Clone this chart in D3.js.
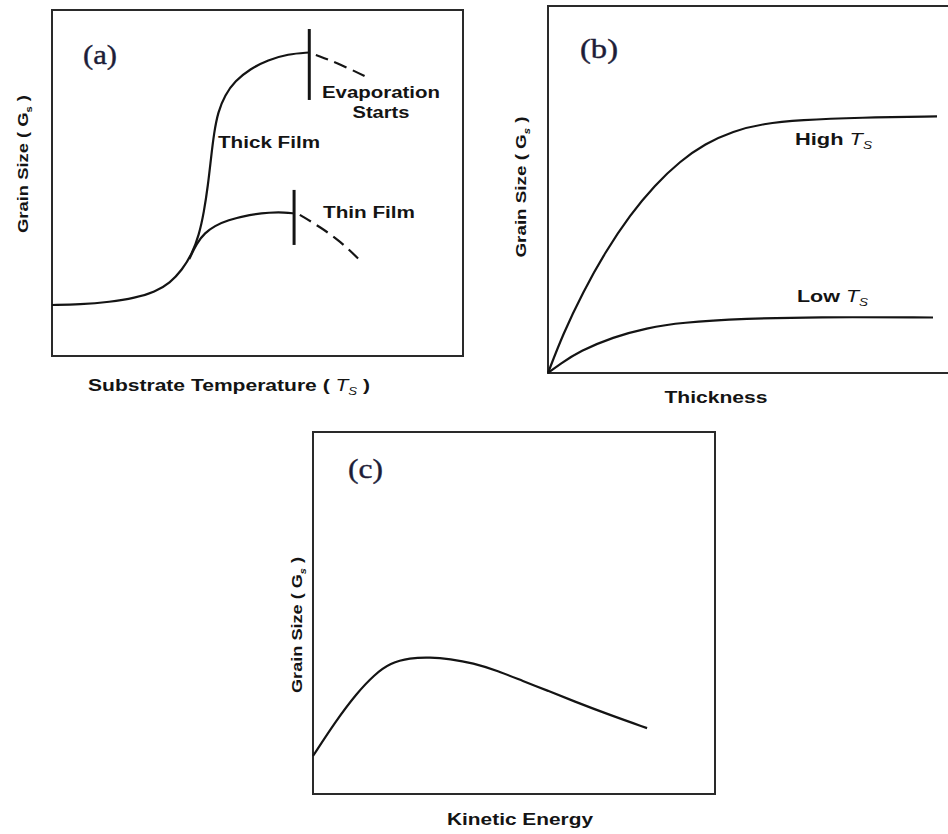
<!DOCTYPE html>
<html><head><meta charset="utf-8">
<script src="https://cdn.jsdelivr.net/npm/d3@7"></script>
<style>body{margin:0;background:#fff;} svg{display:block;}</style>
</head><body><svg id="c" width="948" height="834"></svg>
<script>
// ---------- data (arbitrary units 0-100 on both axes) ----------
// Panel (a): grain size vs substrate temperature
const thickFilm = [[0,14.74],[6.81,14.88],[14.11,15.61],[20.19,16.76],[25.06,18.5],[28.71,21.1],[31.63,24.86],[34.06,29.48],[35.77,34.97],[36.98,41.62],[37.96,49.42],[38.69,57.23],[39.42,64.45],[40.39,70.52],[42.09,75.43],[44.53,79.48],[48.18,82.95],[52.55,85.55],[57.42,87.28],[62.53,87.72]];
const thickFilmEvap = [[64.2,87.0],[70.1,84.4],[77.4,80.1]];
const thinFilm = [[33.4,28.0],[35.2,32.6],[37.2,35.6],[39.6,37.6],[42.6,39.2],[48.2,40.9],[53.0,41.5],[56.7,41.5],[58.9,41.2]];
const thinFilmEvap = [[60.3,40.8],[65.2,37.3],[70.1,33.2],[74.9,27.7]];
const evapMarkers = [{x:62.6, y0:74.0, y1:94.5}, {x:58.9, y0:32.1, y1:48.0}];
// Panel (b): grain size vs thickness
const highTs = [[0,0],[3.75,10.63],[8.75,22.07],[14.25,32.86],[20.5,43.08],[26.75,51.25],[33,57.71],[39.25,62.48],[46.25,65.91],[53.75,67.96],[63,68.96],[78,69.62],[97.25,69.9]];
const lowTs = [[0,0],[3,2.45],[8,5.99],[16.25,9.81],[24.75,12.26],[33,13.76],[49.75,14.85],[66.25,15.26],[96.25,15.12]];
// Panel (c): grain size vs kinetic energy
const kinetic = [[0,10.5],[5.5,19.9],[10.9,27.9],[15.4,33.1],[19.2,36.2],[24.1,37.6],[29.1,37.8],[34.1,37.3],[39.8,36.2],[46.0,34.0],[52.2,31.2],[58.5,28.5],[64.7,25.7],[73.9,21.8],[83.1,18.2]];
// text
const panelTags = ["(a)", "(b)", "(c)"];
const xTitles = ["Substrate Temperature ( ", "Thickness", "Kinetic Energy"];

// ---------- drawing ----------
const svg = d3.select("#c");
const INK = "#141414";
const SANS = "'Liberation Sans', Arial, sans-serif";
const SERIF = "'Liberation Serif', 'Times New Roman', serif";

function makePanel(l, t, r, b, curveType) {
  const x = d3.scaleLinear().domain([0,100]).range([l, r]);
  const y = d3.scaleLinear().domain([0,100]).range([b, t]);
  const g = svg.append("g");
  g.append("rect").attr("x", l).attr("y", t).attr("width", r - l).attr("height", b - t)
    .attr("fill", "none").attr("stroke", "#2a2a2a").attr("stroke-width", 2);
  const line = d3.line().x(d => x(d[0])).y(d => y(d[1])).curve(curveType);
  return {x, y, g, line};
}
function curve(p, data, dashed) {
  p.g.append("path").attr("d", p.line(data)).attr("fill", "none")
    .attr("stroke", INK).attr("stroke-width", 2.2).attr("stroke-linejoin", "round")
    .attr("stroke-dasharray", dashed ? "13,7" : null);
}
function label(x, y, txt, size, width, anchor) {
  const t = svg.append("text").attr("x", x).attr("y", y)
    .attr("font-family", SANS).attr("font-weight", "bold").attr("font-size", size)
    .attr("fill", INK).attr("text-anchor", anchor || "start").text(txt);
  if (width) t.attr("textLength", width).attr("lengthAdjust", "spacingAndGlyphs");
  return t;
}
function tag(x, y, txt, width) {
  svg.append("text").attr("x", x).attr("y", y).attr("font-family", SERIF)
    .attr("font-size", 28).attr("fill", "#1d1d38").attr("stroke", "#1d1d38").attr("stroke-width", 0.4)
    .attr("textLength", width).attr("lengthAdjust", "spacingAndGlyphs").text(txt);
}
function yTitle(cx, cy, width, italicSub) {
  const t = svg.append("text").attr("transform", `translate(${cx},${cy}) rotate(-90)`)
    .attr("text-anchor", "middle").attr("font-family", SANS).attr("font-weight", "bold")
    .attr("font-size", 15).attr("fill", INK)
    .attr("textLength", width).attr("lengthAdjust", "spacingAndGlyphs");
  t.append("tspan").text("Grain Size ( G");
  t.append("tspan").attr("dy", 4).attr("font-size", 9).attr("font-style", italicSub ? "italic" : null).text("s");
  t.append("tspan").attr("dy", -4).text(" )");
}
function tsText(t) {
  t.append("tspan").attr("font-style", "italic").attr("font-weight", "normal").text("T");
  t.append("tspan").attr("dy", 4).attr("font-size", 10).attr("font-style", "italic").attr("font-weight", "normal").text("S");
}

// Panel (a)
const pa = makePanel(52, 10, 463, 356, d3.curveBasis);
curve(pa, thickFilm, false);
curve(pa, thickFilmEvap, true);
curve(pa, thinFilm, false);
curve(pa, thinFilmEvap, true);
pa.g.selectAll("line.mk").data(evapMarkers).join("line")
  .attr("x1", d => pa.x(d.x)).attr("x2", d => pa.x(d.x))
  .attr("y1", d => pa.y(d.y0)).attr("y2", d => pa.y(d.y1))
  .attr("stroke", INK).attr("stroke-width", 3);
tag(83, 64, panelTags[0], 34);
label(218, 148, "Thick Film", 16, 102);
label(322, 98, "Evaporation", 16, 118);
label(381, 118, "Starts", 16, 57, "middle");
label(323, 218, "Thin Film", 16, 92);
yTitle(28, 164, 138, false);
{
  const t = svg.append("text").attr("x", 88).attr("y", 391)
    .attr("font-family", SANS).attr("font-weight", "bold").attr("font-size", 16).attr("fill", INK);
  t.append("tspan").text(xTitles[0]);
  tsText(t);
  t.append("tspan").attr("dy", -4).text(" )");
  t.attr("textLength", 282).attr("lengthAdjust", "spacingAndGlyphs");
}

// Panel (b)
const pb = makePanel(548, 6, 948, 373, d3.curveBasis);
pb.g.select("rect").attr("width", 410);
curve(pb, highTs, false);
curve(pb, lowTs, false);
tag(580, 58, panelTags[1], 38);
{
  const t1 = label(795, 145, "High ", 16, null); tsText(t1);
  t1.attr("textLength", 77).attr("lengthAdjust", "spacingAndGlyphs");
  const t2 = label(797, 302, "Low ", 16, null); tsText(t2);
  t2.attr("textLength", 71).attr("lengthAdjust", "spacingAndGlyphs");
}
yTitle(526, 187, 141, true);
label(716, 403, xTitles[1], 16, 103, "middle");

// Panel (c)
const pc = makePanel(313, 432, 715, 794, d3.curveBasis);
curve(pc, kinetic, false);
tag(348, 478, panelTags[2], 35);
yTitle(302, 625, 136, true);
label(520, 825, xTitles[2], 16, 146, "middle");
</script></body></html>
